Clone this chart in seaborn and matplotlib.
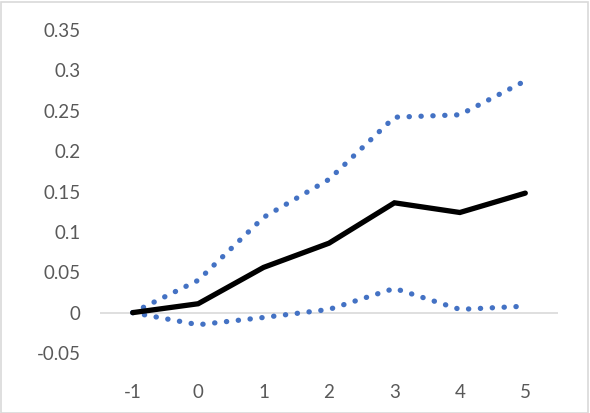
import pandas as pd
import matplotlib.pyplot as plt
import seaborn as sns

periods = [-1, 0, 1, 2, 3, 4, 5]
estimate = [0.0, 0.011, 0.056, 0.086, 0.136, 0.124, 0.148]
upper_ci = [0.0, 0.040, 0.118, 0.165, 0.242, 0.245, 0.287]
lower_ci = [0.0, -0.015, -0.006, 0.004, 0.030, 0.004, 0.008]
y_ticks = [-0.05, 0, 0.05, 0.1, 0.15, 0.2, 0.25, 0.3, 0.35]
y_labels = ["-0.05", "0", "0.05", "0.1", "0.15", "0.2", "0.25", "0.3", "0.35"]

sns.set_theme(style="white")
plt.rcParams["font.family"] = ["Lato", "DejaVu Sans"]

df = pd.DataFrame({"period": periods, "est": estimate, "hi": upper_ci, "lo": lower_ci})

fig = plt.figure(figsize=(5.9, 4.13), dpi=100)
ax = fig.add_axes([100 / 590, 60 / 413, 458 / 590, 323 / 413])

blue = "#4472C4"
dots = (0, (0.05, 2.2))
sns.lineplot(data=df, x="period", y="hi", ax=ax, color=blue, lw=3.8,
             linestyle=dots, dash_capstyle="round")
sns.lineplot(data=df, x="period", y="lo", ax=ax, color=blue, lw=3.8,
             linestyle=dots, dash_capstyle="round")
sns.lineplot(data=df, x="period", y="est", ax=ax, color="black", lw=3.8,
             solid_joinstyle="miter")

ax.axhline(0, color="#d9d9d9", lw=1.2, zorder=0)
ax.set_xlim(-1.5, 5.5)
ax.set_ylim(-0.05, 0.35)
ax.set_yticks(y_ticks)
ax.set_yticklabels(y_labels)
ax.set_xticks(periods)
ax.set_xticklabels([str(p) for p in periods])
ax.tick_params(axis="both", length=0, labelsize=13.5, colors="#595959")
ax.tick_params(axis="x", pad=22)
ax.tick_params(axis="y", pad=14)
ax.set_xlabel("")
ax.set_ylabel("")
for s in ax.spines.values():
    s.set_visible(False)

border = plt.Rectangle((0.5 / 590, 0.5 / 413), 587 / 590, 411 / 413, transform=fig.transFigure,
                       fill=False, edgecolor="#d9d9d9", lw=1.2)
fig.patches.append(border)

fig.savefig("out.png", dpi=100)
